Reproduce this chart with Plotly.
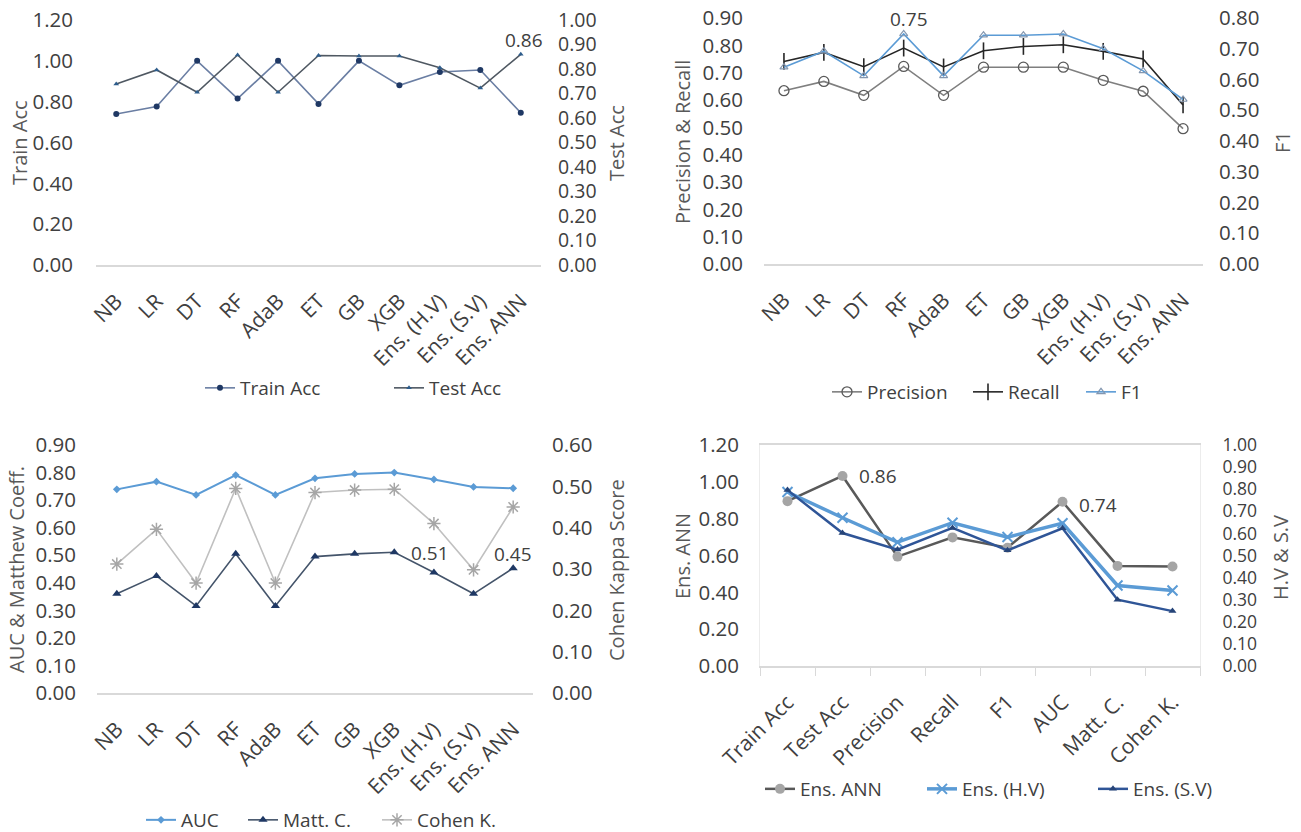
import plotly.graph_objects as go

W, H = 1301, 832

# ---------------- data ----------------
models = ["NB", "LR", "DT", "RF", "AdaB", "ET", "GB", "XGB",
          "Ens. (H.V)", "Ens. (S.V)", "Ens. ANN"]
train_acc = [0.74, 0.776, 1.00, 0.815, 1.00, 0.789, 1.00, 0.88, 0.945, 0.955, 0.746]
test_acc = [0.739, 0.796, 0.705, 0.857, 0.705, 0.855, 0.853, 0.853, 0.805, 0.722, 0.86]
precision = [0.634, 0.668, 0.617, 0.723, 0.617, 0.72, 0.72, 0.72, 0.672, 0.632, 0.495]
recall = [0.741, 0.774, 0.722, 0.79, 0.721, 0.78, 0.796, 0.802, 0.778, 0.75, 0.582]
f1 = [0.64, 0.692, 0.612, 0.748, 0.612, 0.744, 0.744, 0.748, 0.70, 0.628, 0.535]
auc = [0.739, 0.767, 0.719, 0.791, 0.719, 0.779, 0.795, 0.80, 0.775, 0.748, 0.743]
matt_c = [0.36, 0.425, 0.316, 0.505, 0.316, 0.495, 0.505, 0.511, 0.437, 0.36, 0.453]
cohen_k = [0.312, 0.396, 0.266, 0.495, 0.266, 0.485, 0.491, 0.493, 0.41, 0.298, 0.45]

metrics = ["Train Acc", "Test Acc", "Precision", "Recall", "F1", "AUC", "Matt. C.", "Cohen K."]
ens_ann = [train_acc[10], test_acc[10], precision[10], recall[10], f1[10], auc[10], matt_c[10], cohen_k[10]]
ens_hv = [train_acc[8], test_acc[8], precision[8], recall[8], f1[8], auc[8], matt_c[8], cohen_k[8]]
ens_sv = [train_acc[9], test_acc[9], precision[9], recall[9], f1[9], auc[9], matt_c[9], cohen_k[9]]

FONT = "Open Sans"
TICK_C = "#404040"
TITLE_C = "#595959"
FS_Y = 20.5
FS_X = 21
FS_LEG = 19
FS_TITLE = 20
FS_LAB = 19


def px(x):
    return x / W


def py(y):
    return 1 - y / H


fig = go.Figure()

# ---------------- panel 1 ----------------
fig.add_trace(go.Scatter(x=models, y=train_acc, name="Train Acc", mode="lines+markers",
                         line=dict(color="#6a7ea3", width=1.6),
                         marker=dict(symbol="circle", size=6, color="#1f3864"),
                         xaxis="x", yaxis="y", legend="legend"))
fig.add_trace(go.Scatter(x=models, y=test_acc, name="Test Acc", mode="lines+markers",
                         line=dict(color="#4f5862", width=1.6),
                         marker=dict(symbol="triangle-up", size=5, color="#2e5d8c"),
                         xaxis="x", yaxis="y2", legend="legend2"))

# ---------------- panel 2 ----------------
fig.add_trace(go.Scatter(x=models, y=precision, name="Precision", mode="lines+markers",
                         line=dict(color="#7f7f7f", width=1.6),
                         marker=dict(symbol="circle-open", size=10, color="#595959",
                                     line=dict(width=1.3, color="#595959")),
                         xaxis="x2", yaxis="y3", legend="legend3"))
fig.add_trace(go.Scatter(x=models, y=recall, name="Recall", mode="lines+markers",
                         line=dict(color="#262626", width=1.6),
                         marker=dict(symbol="line-ns", size=12, color="#262626",
                                     line=dict(width=1.6, color="#262626")),
                         xaxis="x2", yaxis="y3", legend="legend4"))
fig.add_trace(go.Scatter(x=models, y=f1, name="F1", mode="lines+markers",
                         line=dict(color="#5b9bd5", width=1.6),
                         marker=dict(symbol="triangle-up-open", size=7, color="#8497b0",
                                     line=dict(width=1.2, color="#8497b0")),
                         xaxis="x2", yaxis="y4", legend="legend5"))

# ---------------- panel 3 ----------------
fig.add_trace(go.Scatter(x=models, y=auc, name="AUC", mode="lines+markers",
                         line=dict(color="#5b9bd5", width=2),
                         marker=dict(symbol="diamond", size=6, color="#5b9bd5"),
                         xaxis="x3", yaxis="y5", legend="legend6"))
fig.add_trace(go.Scatter(x=models, y=matt_c, name="Matt. C.", mode="lines+markers",
                         line=dict(color="#44546a", width=1.6),
                         marker=dict(symbol="triangle-up", size=8, color="#1f3864"),
                         xaxis="x3", yaxis="y5", legend="legend7"))
fig.add_trace(go.Scatter(x=models, y=cohen_k, name="Cohen K.", mode="lines+markers",
                         line=dict(color="#c0c0c0", width=1.6),
                         marker=dict(symbol="asterisk-open", size=11, color="#a6a6a6",
                                     line=dict(width=1.5, color="#a6a6a6")),
                         xaxis="x3", yaxis="y6", legend="legend8"))

# ---------------- panel 4 ----------------
fig.add_trace(go.Scatter(x=metrics, y=ens_ann, name="Ens. ANN", mode="lines+markers",
                         line=dict(color="#595959", width=2.5),
                         marker=dict(symbol="circle", size=10, color="#a5a5a5"),
                         xaxis="x4", yaxis="y7", legend="legend9"))
fig.add_trace(go.Scatter(x=metrics, y=ens_hv, name="Ens. (H.V)", mode="lines+markers",
                         line=dict(color="#5b9bd5", width=3.5),
                         marker=dict(symbol="x-thin-open", size=10, color="#5b9bd5",
                                     line=dict(width=2, color="#5b9bd5")),
                         xaxis="x4", yaxis="y8", legend="legend10"))
fig.add_trace(go.Scatter(x=metrics, y=ens_sv, name="Ens. (S.V)", mode="lines+markers",
                         line=dict(color="#2f5597", width=2.5),
                         marker=dict(symbol="triangle-up", size=7, color="#264478"),
                         xaxis="x4", yaxis="y8", legend="legend11"))

# ---------------- axes ----------------
def xax(dom, n, boxed=False):
    d = dict(domain=dom, type="category", range=[-0.5, n - 0.5], tickangle=-45,
             showgrid=False, zeroline=False, showline=True, linecolor="#d9d9d9",
             linewidth=1.5, tickfont=dict(family=FONT, size=FS_X, color=TICK_C),
             ticklabelstandoff=14, automargin=False, fixedrange=True)
    if boxed:
        d.update(ticks="outside", tickson="boundaries", ticklen=8, tickcolor="#d9d9d9",
                 mirror=True)
    else:
        d.update(ticks="")
    return d


def yax(dom, rng, dt, side="left", anchor="x", overlaying=None, standoff=18, fs=FS_Y):
    d = dict(domain=dom, range=rng, dtick=dt, tick0=0, tickformat=".2f", side=side,
             anchor=anchor, showgrid=False, zeroline=False, showline=False, ticks="",
             tickfont=dict(family=FONT, size=fs, color=TICK_C),
             ticklabelstandoff=standoff, automargin=False, fixedrange=True)
    if overlaying:
        d["overlaying"] = overlaying
    return d


d1x, d1y = [px(96), px(541)], [py(265), py(20)]
d2x, d2y = [px(764), px(1203)], [py(264), py(18)]
d3x, d3y = [px(97), px(533)], [py(693), py(445)]
d4x, d4y = [px(760), px(1200)], [py(666), py(445)]

fig.update_layout(
    xaxis=xax(d1x, len(models)) | dict(anchor="y"),
    yaxis=yax(d1y, [0, 1.2], 0.2, "left", "x", standoff=22),
    yaxis2=yax(d1y, [0, 1.0], 0.1, "right", "x", "y", standoff=16, fs=19.5),
    xaxis2=xax(d2x, len(models)) | dict(anchor="y3"),
    yaxis3=yax(d2y, [0, 0.9], 0.1, "left", "x2", standoff=20),
    yaxis4=yax(d2y, [0, 0.8], 0.1, "right", "x2", "y3", standoff=15),
    xaxis3=xax(d3x, len(models)) | dict(anchor="y5"),
    yaxis5=yax(d3y, [0, 0.9], 0.1, "left", "x3", standoff=20),
    yaxis6=yax(d3y, [0, 0.6], 0.1, "right", "x3", "y5", standoff=18),
    xaxis4=xax(d4x, len(metrics), boxed=True) | dict(anchor="y7"),
    yaxis7=yax(d4y, [0, 1.0], 0.1, "right", "x4", standoff=18, fs=17.5) | dict(showline=True, linecolor="#ececec", mirror=True),
    yaxis8=yax(d4y, [0, 1.2], 0.2, "left", "x4", "y7", standoff=20),
)

# ---------------- legends (one per entry, placed like the reference) ----------------
def leg(x_text, y_mid):
    return dict(orientation="h", x=px(x_text - 40), xanchor="left",
                y=py(y_mid), yanchor="middle",
                bgcolor="rgba(0,0,0,0)", borderwidth=0,
                font=dict(family=FONT, size=FS_LEG, color=TICK_C))


fig.update_layout(
    legend=leg(240, 388), legend2=leg(429, 388),
    legend3=leg(867, 392), legend4=leg(1008, 392), legend5=leg(1121, 392),
    legend6=leg(181, 820), legend7=leg(283, 820), legend8=leg(417, 820),
    legend9=leg(800, 789), legend10=leg(962, 789), legend11=leg(1133, 789),
)

# ---------------- annotations ----------------
ann = []
lab = dict(showarrow=False, font=dict(family=FONT, size=FS_LAB, color=TICK_C))
ann.append(dict(x=models[10], y=test_acc[10], xref="x", yref="y2", text=f"{test_acc[10]:.2f}", yshift=14, xshift=3, **lab))
ann.append(dict(x=models[3], y=f1[3], xref="x2", yref="y4", text=f"{f1[3]:.2f}", yshift=15, xshift=5, **lab))
ann.append(dict(x=models[7], y=matt_c[7], xref="x3", yref="y5", text=f"{matt_c[7]:.2f}", xshift=36, yshift=-1, **lab))
ann.append(dict(x=models[10], y=matt_c[10], xref="x3", yref="y5", text=f"{matt_c[10]:.2f}", yshift=14, **lab))
ann.append(dict(x=metrics[1], y=ens_ann[1], xref="x4", yref="y7", text=f"{ens_ann[1]:.2f}", xshift=35, **lab))
ann.append(dict(x=metrics[5], y=ens_ann[5], xref="x4", yref="y7", text=f"{ens_ann[5]:.2f}", xshift=35, yshift=-3, **lab))

tt = dict(showarrow=False, xref="paper", yref="paper", textangle=-90,
          xanchor="center", yanchor="middle", font=dict(family=FONT, size=FS_TITLE, color=TITLE_C))
for text, x, y in [("Train Acc", 19, 143), ("Test Acc", 616, 143),
                   ("Precision & Recall", 683, 142), ("F1", 1283, 142),
                   ("AUC & Matthew Coeff.", 16, 570), ("Cohen Kappa Score", 616, 570),
                   ("Ens. ANN", 682, 556), ("H.V & S.V", 1280, 558)]:
    ann.append(dict(x=px(x), y=py(y), text=text, **tt))

fig.update_layout(
    annotations=ann,
    width=W, height=H,
    margin=dict(l=0, r=0, t=0, b=0, autoexpand=False),
    paper_bgcolor="white", plot_bgcolor="white",
    template="none",
    font=dict(family=FONT, size=FS_Y, color=TICK_C),
    showlegend=True,
)

fig.write_html("out.html", config={"displayModeBar": False},
               post_script="document.body.style.margin='0px';")
